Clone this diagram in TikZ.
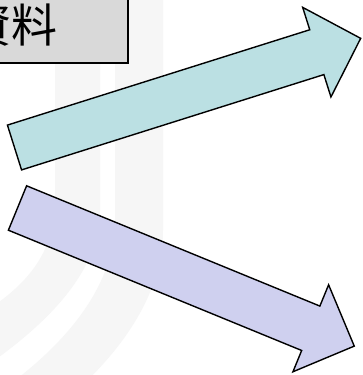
\documentclass[tikz,border=0pt]{standalone}
\usepackage{fontspec}
\newfontfamily\cjk{Noto Sans CJK JP}
\definecolor{arrowcyan}{HTML}{BBE0E3}
\definecolor{arrowpurple}{HTML}{CFD0EF}
\definecolor{boxgray}{HTML}{D9D9D9}
\definecolor{wmark}{HTML}{F6F6F6}
\tikzset{
  bigarrow/.style={draw=black, line width=1.4pt, line join=miter},
  wmband/.style={fill=wmark, draw=none},
  labelbox/.style={draw=black, fill=boxgray, line width=1.4pt}
}
\begin{document}
\begin{tikzpicture}[x=1pt,y=-1pt]
\useasboundingbox (0,0) rectangle (362,375);
\clip (0,0) rectangle (362,375);
\fill[white] (0,0) rectangle (362,375);
% faint watermark bands
\path[wmband] (55,-5) -- (55,200) .. controls (55,250) and (30,280) .. (-5,305)
  -- (-5,360) .. controls (50,320) and (100,270) .. (100,210) -- (100,-5) -- cycle;
\path[wmband] (115,-5) -- (115,220) .. controls (115,290) and (60,350) .. (-5,395)
  -- (-5,450) .. controls (80,400) and (163,320) .. (163,230) -- (163,-5) -- cycle;
% label box
\draw[labelbox] (-200,-10) rectangle (128,63);
\node[font=\cjk\fontsize{46}{50}\selectfont, inner sep=0pt] (label) at (11.5,25) {資料};
% cyan arrow
\begin{scope}[shift={(14.5,147.5)}, rotate=17.5]
  \draw[bigarrow, fill=arrowcyan] (0,-23.5) -- (317,-23.5) -- (317,-47) -- (363,0)
    -- (317,47) -- (317,23.5) -- (0,23.5) -- cycle;
\end{scope}
% purple arrow
\begin{scope}[shift={(17.5,208)}, rotate=-22.3]
  \draw[bigarrow, fill=arrowpurple] (0,-24) -- (317,-24) -- (317,-47) -- (364,0)
    -- (317,47) -- (317,24) -- (0,24) -- cycle;
\end{scope}
\end{tikzpicture}
\end{document}
